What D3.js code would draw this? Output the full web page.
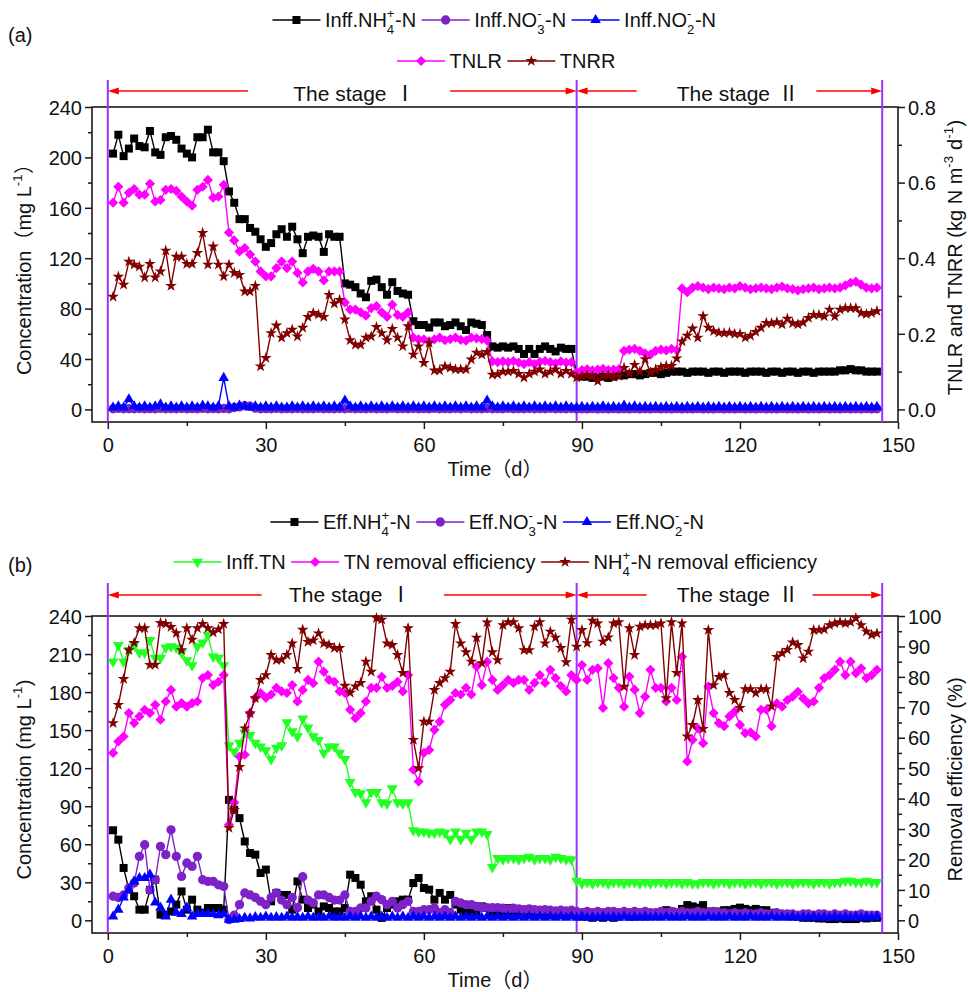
<!DOCTYPE html>
<meta charset="utf-8">
<head>
  <title>Nitrogen removal, stage I and II</title>
  <style>
    body { margin: 0; background: #fff; }
    text { font-family: "Liberation Sans", Arial, "Noto Sans CJK SC", sans-serif; fill: #111; }
  </style>
</head>
<body>
<script src="https://cdn.jsdelivr.net/npm/d3@7"></script>
<script>
var WIDTH = 968,
    HEIGHT = 992;

// one sample per day, day 1..146 (stage I: 1-88, stage II: 89-146)
var days = d3.range(1, 147);
var stageBreaks = [0, 89, 147];
var xTicks = [0, 30, 60, 90, 120, 150];

// ---------- panel (a) ----------
var inffNH4 = [
  203,218,201,207,215,209,208,221,204,202,216,217,214,207,203,200,216,216,222,204,204,197,
  173,164,151,151,144,141,135,129,132,139,143,137,145,135,124,137,138,137,125,139,137,137,
  100,99,97,92,89,102,103,97,91,101,94,92,91,
  70,67,67,65,69,69,66,67,69,66,63,69,68,67,59,
  50,49,50,49,50,48,44,48,44,48,50,48,46,49,48,48,
  28,26,26,25,26,26,25,26,27,27, 28,28,27,28,29,29,28,29,30,30,
  30,29,30,30,30,29,30,30,29,30, 30,30,29,30,30,30,29,30,30,29,
  30,30,29,30,30,29,30,30,30,30, 31,31,32,31,31,30,30,30
];
var inffNO3 = [
  0.5,0.8,0.5,0.6,0.5,0.7,0.5,0.6,0.5,0.8,0.5,0.6,0.5,0.7,0.5,0.6,0.5,0.8,0.5,0.6,0.5,0.7,
  0.5,1.5,2,3,2.5,1,0.5,0.6,0.5,0.8,0.5,0.6,0.5,0.7,0.5,0.6,0.5,0.8,0.5,0.6,0.5,0.7,
  0.5,0.8,0.5,0.6,0.5,0.7,0.5,0.6,0.5,0.8,0.5,0.6,0.5,0.7,0.5,0.6,0.5,0.8,0.5,0.6,0.5,0.7,
  0.5,0.8,0.5,0.6,0.5,0.7,0.5,0.6,0.5,0.8,0.5,0.6,0.5,0.7,0.5,0.6,0.5,0.8,0.5,0.6,0.5,0.7,
  0.4,0.5,0.4,0.6,0.4,0.5,0.4,0.6,0.4,0.5, 0.4,0.6,0.4,0.5,0.4,0.6,0.4,0.5,0.4,0.6,
  0.4,0.5,0.4,0.6,0.4,0.5,0.4,0.6,0.4,0.5, 0.4,0.6,0.4,0.5,0.4,0.6,0.4,0.5,0.4,0.6,
  0.4,0.5,0.4,0.6,0.4,0.5,0.4,0.6,0.4,0.5, 0.4,0.6,0.4,0.5,0.4,0.6,0.4,0.5
];
var inffNO2 = [
  1.5,2.5,1.5,8,2.5,1.5,2.5,1.5,2.5,4,1.5,2.5,1.5,2.5,1.5,2.5,1.5,3,2.5,1.5,2.5,25,
  2.5,1.5,3,2.5,1.5,2.5,1.5,2.5,1.5,2.5,1.5,1.5,2.5,1.5,2.5,1.5,2.5,1.5,2.5,1.5,2.5,1.5,
  7,2.5,1.5,2.5,1.5,2.5,1.5,2.5,1.5,2.5,1.5,2.5,1.5,2.5,1.5,2.5,1.5,2.5,1.5,2.5,1.5,2.5,
  1.5,2.5,1.5,2.5,1.5,7,2.5,1.5,2.5,1.5,2.5,1.5,2.5,1.5,2.5,1.5,2.5,1.5,2.5,1.5,2.5,1.5,
  1.5,2,1.5,2,1.5,2.5,1.5,2,1.5,3, 1.5,2.5,1.5,2,1.5,2,1.5,2,1.5,2,
  1.5,2,1.5,2,1.5,2,1.5,2,1.5,2, 1.5,2,1.5,2,1.5,2,1.5,2,1.5,2,
  1.5,2,1.5,2,1.5,2,1.5,2,1.5,2, 1.5,2,1.5,2,1.5,2,1.5,2
];
var tnlr = [
  0.547,0.589,0.547,0.573,0.583,0.568,0.568,0.597,0.55,0.554,0.581,0.583,0.578,0.563,0.55,0.539,0.581,0.589,0.607,0.56,0.563,0.594,
  0.468,0.447,0.418,0.427,0.41,0.391,0.365,0.352,0.352,0.374,0.391,0.374,0.391,0.361,0.336,0.365,0.372,0.365,0.341,0.365,0.365,0.365,
  0.283,0.264,0.264,0.257,0.248,0.268,0.273,0.257,0.245,0.277,0.25,0.245,0.257,
  0.19,0.185,0.185,0.18,0.185,0.19,0.183,0.186,0.19,0.184,0.182,0.19,0.188,0.186,0.182,
  0.127,0.125,0.127,0.125,0.128,0.124,0.12,0.125,0.12,0.126,0.128,0.125,0.122,0.127,0.124,0.125,
  0.098,0.104,0.106,0.103,0.105,0.107,0.104,0.105,0.106,
  0.155,0.158,0.16,0.155,0.148,0.145,0.155,0.158,0.156,0.16,0.157,
  0.32,0.31,0.322,0.326,0.322,0.318,0.322,0.32,0.318,0.322, 0.32,0.326,0.322,0.318,0.32,0.322,0.32,0.318,0.322,0.325,
  0.32,0.318,0.315,0.318,0.32,0.322,0.318,0.32,0.322,0.32, 0.322,0.328,0.335,0.338,0.33,0.322,0.32,0.322
];
var tnrr = [
  0.298,0.351,0.33,0.391,0.383,0.378,0.349,0.385,0.349,0.365,0.42,0.327,0.404,0.404,0.385,0.385,0.414,0.467,0.383,0.431,0.383,0.352,
  0.383,0.361,0.356,0.312,0.312,0.327,0.114,0.136,0.202,0.222,0.19,0.202,0.211,0.193,0.216,0.245,0.255,0.251,0.245,0.303,0.28,0.29,
  0.238,0.183,0.171,0.171,0.19,0.193,0.218,0.202,0.183,0.213,0.19,0.167,0.22,
  0.145,0.167,0.123,0.176,0.103,0.103,0.114,0.11,0.106,0.106,0.106,0.132,0.15,0.145,0.152,
  0.092,0.093,0.1,0.1,0.102,0.094,0.084,0.094,0.1,0.106,0.094,0.1,0.106,0.094,0.102,0.094,
  0.084,0.088,0.09,0.087,0.075,0.088,0.09,0.086,0.088,0.11, 0.095,0.118,0.1,0.133,0.098,0.105,0.112,0.115,0.115,0.135,
  0.18,0.195,0.214,0.19,0.247,0.216,0.207,0.203,0.202,0.203, 0.2,0.2,0.19,0.195,0.205,0.216,0.229,0.228,0.231,0.225,
  0.24,0.228,0.225,0.23,0.242,0.25,0.25,0.246,0.264,0.246, 0.264,0.268,0.268,0.268,0.255,0.252,0.255,0.26
];

// ---------- panel (b) ----------
var effNH4 = [
  71,63.6,41.3,24.2,19,8.4,8.4,24,32,4.5,4.5,7,12.4,22.8,8.4,16.3,8.4,6,9.7,9.7,9.7,8.4,
  95,87.2,80.6,62.2,53.1,51.8,37.3,40,15,21.6,20,20,8.4,30.7,16.3,9.7,12.4,7,11,9.7,7,7,
  9.7,36,33.4,28.1,15,19,8.4,1.9,9.7,12.4,15,16.3,16.3,
  29.4,33.4,25.5,24.2,16.3,21.6,16.3,20,12.4,8.4,6,8.4,6,11,9.7,
  6,7,6,9.7,7,7,8.4,6,7,6,7,4.5,6,4.5,6,6,
  4,3,3,2,3,2,3,2,3,4, 3,3,4,3,4,5,6,8,7,6,
  9,12,11,10,12,7,6,7,8,8, 9,10,9,8,9,8,8,6,5,4,
  4,3,3,2,2,2,1.5,1.5,1,1, 1.5,1,1,1,2,1.5,2,2
];
var effNO3 = [
  19,18,20,25.5,29.4,50.4,59.6,24,32,58.3,51.8,71.4,50.4,34.6,45.2,42.5,50.4,32,30.7,30.7,28,26.8,
  0.5,4,12.4,21.6,20,18,15,12.4,18,21.6,16,12.4,18,10,34.4,16,13.7,20,20,18,16,16,
  20,7,7,9.7,9.7,15,19,16.3,12.4,15,9.7,12.4,15,
  7,7,8.4,8.4,9.7,6,8.4,6,15,13.7,12.4,12.4,11,10,10,
  10,10,9.5,9,9.5,9,8.5,9,8.5,8,8.5,8,7.5,8,7.5,8,
  7,6,7,6,7,6,7,7,6,7, 6,7,6,7,6,6,7,6,7,6,
  7,6,6,7,6,6,7,6,6,5, 6,5,6,5,5,6,5,5,6,5,
  5,5,4,5,5,4,5,5,4,5, 4,5,4,4,5,4,4,4
];
var effNO2 = [
  3,8.4,18,24,30.7,33.4,33.4,36,14,10,3,16.3,6,5,10,3,5,5,5,5,4,5,
  0.5,0.5,1,2,1.5,2.5,2,3,2,2.5,2,3,2,2.5,2,3,2,2.5,2,3,2,2.5,
  2,3,2,3,2,3,2,3,2,3,2,3,2,3,2,3,2,3,2,3,2,3,
  2,3,2,3,2,3,2,3,2,3,2,3,2,3,2,3,2,3,2,3,2,3,
  2,3,2,2.5,2,3,2,2.5,2,3, 2,2.5,2,3,2,2.5,2,3,2,2.5,
  2,3,2,2.5,2,3,2,2.5,2,3, 2,2.5,2,3,2,2.5,2,3,2,2.5,
  2,3,2,2.5,2,3,2,2.5,2,3, 2,2.5,2,3,2,2.5,2,3
];
var inffTN = [
  204,217,204,213,217,211,211,221,207,207,215,216,215,211,205,201,216,219,225,208,207,201,
  138,133,140,148,146,140,137,134,127,136,138,156,149,145,159,152,145,142,132,137,137,132,
  127,109,101,100,93,101,101,93,92,104,93,92,93,
  71,70,70,69,69,70,69,64,70,64,69,64,70,70,68,
  42,49,48,49,49,48,49,50,48,49,49,48,50,49,48,48,
  31,29,30,29,30,30,29,30,30,29, 30,30,29,30,29,30,30,29,30,30,
  29,30,29,29,30,30,29,30,30,29, 30,30,29,30,30,29,30,30,29,30,
  30,29,30,30,30,29,30,30,29,30, 30,31,31,30,30,31,30,30
];
var tnRemoval = [
  55,58.8,60.4,68.1,64.8,67,69.2,68.1,70.8,65.9,71.9,75.7,70.2,71.4,70.2,71.4,71.9,79.6,80.6,77.3,78.4,80.6,
  31.4,38.7,53.8,54.4,68.1,73.1,74.7,73.1,74.2,76.4,75.2,74.7,77.3,71.9,75.7,79,77.9,85,81.7,79,78.4,75.2,
  74.7,69.2,66.4,68.1,71.9,76.4,76.4,80,76.4,77,78.4,75.2,80.6,
  49.5,45.6,55,56,62.6,65.3,70.8,72.4,74.7,74.2,76.4,74.2,83.4,77.3,85,
  79,75.7,77.3,79,78,79,79,75.7,78,80.6,78,82.3,79.6,77,75.2,80.6,
  79,83.9,79,82.3,82.8,69.8,84.5,79.6,76.4,70.2, 80.1,75.8,68.1,73.5,82.3,76.4,76.4,71.9,76.4,72.4,
  86.6,52.2,59.3,63.1,58.2,76.8,68.1,64.8,63.8,67, 68.6,64.2,61.5,61.8,60.4,69.2,69.2,63.8,71.3,70.2,
  72.4,73.5,75.1,72.9,71.3,71.9,76.4,79.6,80.6,82.3, 85,80.6,85,81.2,82.8,79.6,80.6,82.3
];
var nh4Removal = [
  64.8,70.8,79.3,88.8,91.2,96,96,83.9,84,97.7,97.4,96.4,94.4,88.8,96,92.2,96,97.4,96,94.6,95.6,97.4,
  30.4,36.3,50.4,63.1,68,73,79,80.6,87.2,85.5,85.7,87.2,91,82.6,95.5,91.5,92,94.3,91,90.5,89.5,89.5,
  77.1,74.8,76.9,78,85,81.7,99.3,98.8,91,90.5,87.2,81.3,96,
  59.3,50,65.3,65.3,75.7,78,79.6,81.7,97.4,91,88.1,85,92.9,84.5,97.9,
  88.1,85.5,97,98,98,96,88.8,88.8,96.5,98,91,94.9,92.9,89.5,84.8,98.8,
  89.9,95.4,91.1,98.5,97.6,91.6,93,97.6,98,76.8, 96,87.2,96.5,97,97,97,97.6,73,98,81.3,
  97.6,60.4,64.2,72.4,62.9,95.4,77.3,80,80.6,74.7, 72.4,69.8,76,76,74.7,76,76,70.3,86.6,87.8,
  88.9,91.3,90.5,86.1,88.3,95.4,95.4,95.6,97,97.6, 98,97.6,98,99.3,97,94.9,93.8,94.3
];

var colors = {
  black: "#000000", purple: "#7d22c8", blue: "#0000ff",
  magenta: "#ff00ff", wine: "#800000", green: "#22ff22",
  stageLine: "#9933ff", arrow: "#ff0000", axis: "#1a1a1a"
};

var x = d3.scaleLinear().domain([-3, 150]).range([92, 898]);

var svg = d3.select("body").append("svg")
    .attr("width", WIDTH)
    .attr("height", HEIGHT);

var symbols = {
  square:   { type: d3.symbolSquare,   size: 64,  rot: 0 },
  circle:   { type: d3.symbolCircle,   size: 68,  rot: 0 },
  triangle: { type: d3.symbolTriangle, size: 48,  rot: 0 },
  down:     { type: d3.symbolTriangle, size: 52,  rot: 180 },
  diamond:  { type: d3.symbolSquare,   size: 52,  rot: 45 },
  star:     { type: d3.symbolStar,     size: 42,  rot: 0 }
};

// text with _x / ^x (or _{..} / ^{..}) sub/superscripts; a ^ right after a _ is stacked
function richText(t, str, fs) {
  var i = 0, shift = 0, prevSub = false, prevSubW = 0, pad = 0;
  while (i < str.length) {
    var c = str[i];
    if (c === "_" || c === "^") {
      var piece, j;
      if (str[i + 1] === "{") {
        j = str.indexOf("}", i);
        piece = str.slice(i + 2, j);
        i = j + 1;
      } else {
        piece = str[i + 1];
        i += 2;
      }
      var target = c === "_" ? fs * 0.36 : -fs * 0.46;
      var ts = t.append("tspan").attr("font-size", fs * 0.66)
          .attr("dy", target - shift).text(piece);
      var w = ts.node().getComputedTextLength();
      pad = 0;
      if (c === "^" && prevSub) {
        ts.attr("dx", -prevSubW);
        pad = Math.max(0, prevSubW - w);   // keep the following run clear of the subscript
      }
      prevSubW = w;
      prevSub = c === "_";
      shift = target;
    } else {
      j = i;
      while (j < str.length && str[j] !== "_" && str[j] !== "^") j++;
      t.append("tspan").attr("dy", -shift).attr("dx", pad + 0.5).text(str.slice(i, j));
      shift = 0;
      pad = 0;
      prevSub = false;
      i = j;
    }
  }
  return t;
}

function marker(g, sym, color, cx, cy) {
  var s = symbols[sym];
  g.append("path")
    .attr("d", d3.symbol().type(s.type).size(s.size)())
    .attr("transform", "translate(" + cx + "," + cy + ") rotate(" + s.rot + ")")
    .attr("fill", color);
}

function drawPanel(p) {
  var g = svg.append("g");
  var yL = d3.scaleLinear().domain(p.yLeft).range([p.bottom, p.top]);
  var yR = d3.scaleLinear().domain(p.yRight).range([p.bottom, p.top]);

  // frame
  g.append("rect")
    .attr("x", x.range()[0]).attr("y", p.top)
    .attr("width", x.range()[1] - x.range()[0]).attr("height", p.bottom - p.top)
    .attr("fill", "none").attr("stroke", colors.axis).attr("stroke-width", 1.6);

  function axis(gen, scale, major, minor, pos, fmt) {
    var a = g.append("g").attr("transform", pos)
      .call(gen(scale).tickValues(major).tickSize(7).tickPadding(3).tickFormat(fmt));
    var m = g.append("g").attr("transform", pos)
      .call(gen(scale).tickValues(minor).tickSize(4).tickFormat(""));
    [a, m].forEach(function(s) {
      s.select(".domain").remove();
      s.selectAll("line").attr("stroke", colors.axis).attr("stroke-width", 1.5);
    });
    a.selectAll("text").attr("font-size", 20).attr("fill", "#111")
      .style("font-family", "Liberation Sans, Arial, sans-serif");
    return a;
  }
  var xMinor = [15, 45, 75, 105, 135];
  axis(d3.axisBottom, x, xTicks, xMinor, "translate(0," + p.bottom + ")", d3.format("d"))
    .selectAll("text").attr("dy", "1.0em");
  axis(d3.axisLeft, yL, p.leftTicks, p.leftMinor, "translate(" + x.range()[0] + ",0)", d3.format("d"))
    .selectAll("text").attr("dy", "0.36em");
  axis(d3.axisRight, yR, p.rightTicks, p.rightMinor, "translate(" + x.range()[1] + ",0)", p.rightFmt)
    .selectAll("text").attr("dy", "0.36em");

  // stage separators
  g.selectAll(".stage").data(stageBreaks).enter().append("line")
    .attr("x1", function(d) { return x(d); }).attr("x2", function(d) { return x(d); })
    .attr("y1", p.stageTop).attr("y2", p.bottom)
    .attr("stroke", colors.stageLine).attr("stroke-width", 2);

  // stage arrows and labels
  p.arrows.forEach(function(a) {
    var x1 = x(a[0]), x2 = x(a[1]), dir = a[2];
    var tip = dir < 0 ? x1 : x2, tail = dir < 0 ? x2 : x1;
    g.append("line").attr("x1", tail).attr("x2", tip - dir * 8)
      .attr("y1", p.arrowY).attr("y2", p.arrowY)
      .attr("stroke", colors.arrow).attr("stroke-width", 1.6);
    g.append("path")
      .attr("d", "M" + tip + "," + p.arrowY + "l" + (-dir * 11) + ",-3.5l0,7z")
      .attr("fill", colors.arrow);
  });
  p.stages.forEach(function(s) {
    var t = g.append("text").attr("x", x(s.at)).attr("y", p.stageTextY)
      .attr("text-anchor", "middle").attr("font-size", 21);
    t.append("tspan").text("The stage");
    t.append("tspan").attr("dx", 8).style("font-family", "Noto Sans CJK SC, serif").text(s.numeral);
  });

  // series
  var fs = 20;
  p.series.forEach(function(s) {
    var y = s.axis === "R" ? yR : yL;
    var line = d3.line().x(function(d, i) { return x(days[i]); }).y(function(d) { return y(d); });
    g.append("path").attr("d", line(s.values))
      .attr("fill", "none").attr("stroke", s.color).attr("stroke-width", 1.4);
    var mg = g.append("g");
    s.values.forEach(function(v, i) { marker(mg, s.symbol, s.color, x(days[i]), y(v)); });
  });

  // axis titles
  richText(g.append("text").attr("text-anchor", "middle").attr("font-size", 20)
    .attr("transform", "translate(" + p.leftTitleX + "," + p.leftTitleY + ") rotate(-90)"), p.leftTitle, 20);
  richText(g.append("text").attr("text-anchor", "middle").attr("font-size", 20)
    .attr("transform", "translate(" + p.rightTitleX + "," + p.rightTitleY + ") rotate(-90)"), p.rightTitle, 20);
  g.append("text").attr("x", 495).attr("y", p.xTitleY).attr("text-anchor", "middle")
    .attr("font-size", 20).text("Time（d）");

  // panel tag
  g.append("text").attr("x", 8).attr("y", p.tagY).attr("font-size", 20).text(p.tag);

  // legend rows
  p.legend.forEach(function(row) {
    var lg = g.append("g");
    var cx = 0;
    row.items.forEach(function(it, k) {
      lg.append("line").attr("x1", cx).attr("x2", cx + 48).attr("y1", 0).attr("y2", 0)
        .attr("stroke", it.color).attr("stroke-width", 1.6);
      marker(lg, it.symbol, it.color, cx + 24, 0);
      var t = richText(lg.append("text").attr("x", cx + 52).attr("y", 7).attr("font-size", fs), it.label, fs);
      cx += 52 + t.node().getBBox().width + 6;
    });
    var w = cx - 6;
    lg.attr("transform", "translate(" + (row.cx - w / 2) + "," + row.y + ")");
  });
}

drawPanel({
  tag: "(a)", tagY: 42,
  top: 107, bottom: 422, stageTop: 80,
  yLeft: [-10, 240], yRight: [-1 / 30, 0.8],
  leftTicks: [0, 40, 80, 120, 160, 200, 240], leftMinor: [20, 60, 100, 140, 180, 220],
  rightTicks: [0, 0.2, 0.4, 0.6, 0.8], rightMinor: [0.1, 0.3, 0.5, 0.7], rightFmt: d3.format(".1f"),
  arrowY: 91, stageTextY: 101,
  arrows: [[0, 26.6, -1], [65, 89, 1], [89, 100.4, -1], [134.5, 147, 1]],
  stages: [{ at: 46.8, numeral: "Ⅰ" }, { at: 119.6, numeral: "Ⅱ" }],
  leftTitle: "Concentration（mg L^{-1}）", leftTitleX: 31, leftTitleY: 265,
  rightTitle: "TNLR and TNRR (kg N m^{-3} d^{-1})", rightTitleX: 962, rightTitleY: 258,
  xTitleY: 476,
  series: [
    { values: inffNH4, axis: "L", color: colors.black, symbol: "square" },
    { values: inffNO3, axis: "L", color: colors.purple, symbol: "circle" },
    { values: inffNO2, axis: "L", color: colors.blue, symbol: "triangle" },
    { values: tnlr, axis: "R", color: colors.magenta, symbol: "diamond" },
    { values: tnrr, axis: "R", color: colors.wine, symbol: "star" }
  ],
  legend: [
    { y: 20, cx: 494, items: [
      { label: "Inff.NH_4^+-N", color: colors.black, symbol: "square" },
      { label: "Inff.NO_3^--N", color: colors.purple, symbol: "circle" },
      { label: "Inff.NO_2^--N", color: colors.blue, symbol: "triangle" }] },
    { y: 61, cx: 506, items: [
      { label: "TNLR", color: colors.magenta, symbol: "diamond" },
      { label: "TNRR", color: colors.wine, symbol: "star" }] }
  ]
});

drawPanel({
  tag: "(b)", tagY: 572,
  top: 616, bottom: 933, stageTop: 583,
  yLeft: [-10, 240], yRight: [-25 / 6, 100],
  leftTicks: [0, 30, 60, 90, 120, 150, 180, 210, 240], leftMinor: [15, 45, 75, 105, 135, 165, 195, 225],
  rightTicks: [0, 10, 20, 30, 40, 50, 60, 70, 80, 90, 100],
  rightMinor: [5, 15, 25, 35, 45, 55, 65, 75, 85, 95], rightFmt: d3.format("d"),
  arrowY: 595, stageTextY: 602,
  arrows: [[0, 29.2, -1], [63.8, 89, 1], [89, 102.3, -1], [133.8, 147, 1]],
  stages: [{ at: 46, numeral: "Ⅰ" }, { at: 119.6, numeral: "Ⅱ" }],
  leftTitle: "Concentration (mg L^{-1})", leftTitleX: 31, leftTitleY: 780,
  rightTitle: "Removal efficiency (%)", rightTitleX: 962, rightTitleY: 780,
  xTitleY: 987,
  series: [
    { values: effNH4, axis: "L", color: colors.black, symbol: "square" },
    { values: effNO3, axis: "L", color: colors.purple, symbol: "circle" },
    { values: effNO2, axis: "L", color: colors.blue, symbol: "triangle" },
    { values: inffTN, axis: "L", color: colors.green, symbol: "down" },
    { values: tnRemoval, axis: "R", color: colors.magenta, symbol: "diamond" },
    { values: nh4Removal, axis: "R", color: colors.wine, symbol: "star" }
  ],
  legend: [
    { y: 522, cx: 487, items: [
      { label: "Eff.NH_4^+-N", color: colors.black, symbol: "square" },
      { label: "Eff.NO_3^--N", color: colors.purple, symbol: "circle" },
      { label: "Eff.NO_2^--N", color: colors.blue, symbol: "triangle" }] },
    { y: 562, cx: 495, items: [
      { label: "Inff.TN", color: colors.green, symbol: "down" },
      { label: "TN removal efficiency", color: colors.magenta, symbol: "diamond" },
      { label: "NH_4^+-N removal efficiency", color: colors.wine, symbol: "star" }] }
  ]
});
</script>
</body>
